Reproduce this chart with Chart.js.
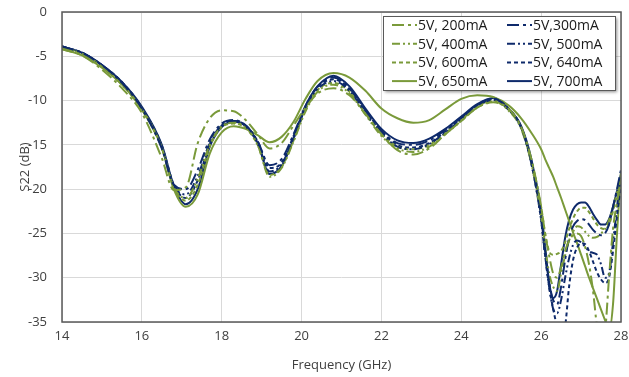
<!DOCTYPE html>
<html>
<head>
<meta charset="utf-8">
<script src="https://cdn.jsdelivr.net/npm/chart.js@4.4.0/dist/chart.umd.min.js"></script>
<style>
  html, body { margin: 0; padding: 0; background: #fff; }
  #wrap { width: 629px; height: 377px; }
</style>
</head>
<body>
<div id="wrap"><canvas id="grafik" width="629" height="377"></canvas></div>
<script>
// frekuensi (GHz) yang dipakai semua kurva
const frekuensi = [14, 14.5, 15, 15.5, 16, 16.5, 16.8, 17.1, 17.4, 17.7, 18, 18.3, 18.6, 18.9, 19.2, 19.5, 19.8, 20.1, 20.4, 20.8,
  21.2, 21.6, 22, 22.4, 22.8, 23.2, 23.6, 24, 24.4, 24.8, 25.2, 25.5, 25.75,
  26.0, 26.1, 26.2, 26.3, 26.4, 26.5, 26.6, 26.7, 26.8, 26.9, 27.0, 27.1, 27.2, 27.3, 27.4, 27.5, 27.6, 27.7, 27.8, 27.9, 28.0];

const label = ['5V, 200mA', '5V,300mA', '5V, 400mA', '5V, 500mA', '5V, 600mA', '5V, 640mA', '5V, 650mA', '5V, 700mA'];

// S22 (dB) tiap kondisi bias
const s22_200 = [-4.2, -4.9, -6.5, -8.6, -11.4, -16.5, -20.1, -19.8, -14.8, -12.0, -11.1, -11.2, -12.2, -13.8, -15.4, -14.8, -12.8, -10.8, -9.2, -8.6,
  -9.4, -11.5, -13.8, -15.6, -16.1, -15.4, -13.8, -12.3, -10.8, -10.2, -11.0, -13.0, -16.5,
  -22.0, -25.0, -27.5, -29.5, -30.0, -28.8, -27.0, -25.8, -25.2, -25.0, -25.3, -26.5, -28.5, -31.5, -35.5, -37.0, -36.0, -30.0, -24.5, -21.5, -19.0];
const s22_300 = [-3.9, -4.6, -6.0, -8.0, -10.9, -15.4, -19.5, -20.0, -17.8, -14.4, -12.6, -12.2, -12.8, -14.6, -17.3, -16.6, -13.8, -10.6, -8.4, -7.4,
  -8.6, -11.1, -13.4, -14.8, -15.0, -14.5, -13.3, -11.9, -10.5, -9.8, -11.0, -13.0, -16.8,
  -23.0, -27.0, -30.5, -32.5, -33.0, -31.0, -28.0, -25.5, -24.2, -23.6, -23.4, -23.5, -24.0, -24.6, -25.0, -25.2, -25.0, -24.0, -22.0, -20.0, -17.8];
const s22_400 = [-4.0, -4.7, -6.2, -8.2, -11.0, -15.4, -19.8, -21.0, -18.8, -15.0, -12.9, -12.5, -13.0, -15.0, -18.6, -17.6, -14.6, -11.2, -9.0, -8.2,
  -9.2, -11.6, -14.0, -15.4, -15.8, -15.2, -13.8, -12.3, -10.8, -10.1, -11.2, -13.2, -17.0,
  -23.0, -26.5, -29.5, -31.0, -31.5, -29.5, -27.5, -25.8, -24.8, -24.2, -24.3, -24.8, -25.3, -25.5, -25.4, -25.0, -24.5, -23.5, -22.0, -20.5, -18.8];
const s22_500 = [-3.9, -4.6, -6.0, -8.0, -10.9, -15.3, -19.6, -20.6, -18.5, -14.8, -12.8, -12.3, -12.9, -14.8, -18.0, -17.2, -14.2, -10.9, -8.7, -7.8,
  -8.9, -11.4, -13.7, -15.2, -15.5, -14.9, -13.6, -12.1, -10.6, -9.9, -11.1, -13.1, -17.0,
  -23.5, -27.5, -31.0, -33.5, -34.0, -32.5, -30.0, -27.8, -26.3, -25.8, -26.0, -26.5, -27.0, -27.2, -27.4, -28.5, -30.0, -29.5, -26.0, -22.0, -18.5];
const s22_600 = [-4.0, -4.7, -6.1, -8.1, -10.9, -15.3, -19.8, -21.3, -19.5, -15.2, -13.0, -12.6, -13.1, -15.0, -18.4, -17.5, -14.5, -11.0, -8.8, -8.0,
  -9.0, -11.5, -13.8, -15.2, -15.5, -15.0, -13.7, -12.2, -10.7, -10.0, -11.1, -13.1, -16.8,
  -22.0, -25.0, -27.0, -27.4, -27.3, -27.0, -26.0, -24.5, -23.3, -22.5, -22.1, -22.1, -22.6, -23.3, -24.0, -24.4, -24.5, -24.0, -22.5, -20.5, -18.5];
const s22_640 = [-3.9, -4.6, -6.0, -7.9, -10.8, -15.1, -19.5, -21.0, -19.0, -14.9, -12.8, -12.3, -12.8, -14.6, -17.6, -17.0, -14.0, -10.7, -8.5, -7.6,
  -8.7, -11.2, -13.5, -15.0, -15.3, -14.8, -13.5, -12.0, -10.5, -9.8, -11.0, -13.0, -17.0,
  -23.5, -27.5, -31.0, -33.5, -35.5, -36.5, -35.5, -31.0, -28.0, -26.6, -26.1, -26.2, -27.0, -28.2, -29.4, -30.2, -30.6, -30.0, -27.0, -23.0, -19.5];
const s22_650 = [-4.2, -4.9, -6.3, -8.2, -11.0, -15.3, -20.0, -22.0, -20.6, -16.0, -13.6, -12.9, -13.2, -13.9, -14.7, -14.1, -12.4, -9.8, -7.8, -6.9,
  -7.4, -8.9, -10.9, -12.0, -12.5, -12.2, -11.0, -9.8, -9.4, -9.6, -10.6, -12.0, -13.6,
  -15.5, -16.6, -17.6, -18.6, -19.8, -21.0, -22.3, -23.6, -24.9, -26.1, -27.4, -28.7, -30.0, -31.2, -32.4, -33.6, -34.8, -36.0, -33.0, -25.0, -18.0];
const s22_700 = [-3.9, -4.6, -6.0, -7.9, -10.7, -15.0, -19.6, -21.7, -20.0, -15.2, -13.0, -12.4, -12.9, -14.8, -18.3, -17.4, -14.3, -10.6, -8.4, -7.2,
  -8.4, -10.9, -13.2, -14.5, -14.8, -14.3, -13.2, -11.8, -10.4, -9.7, -11.0, -12.9, -16.5,
  -22.5, -26.5, -30.5, -32.3, -31.5, -28.5, -25.5, -23.5, -22.3, -21.7, -21.5, -21.5, -22.0, -22.8, -23.5, -24.0, -24.0, -23.4, -22.0, -20.2, -18.3];

const hijau = '#7A9A3A';
const biru = '#0E2A6B';

const dashPanjangTitik = [12, 4, 3, 4];
const dashTitikTitik = [8, 3, 2, 3, 2, 3];
const dashPendek = [4, 3];

const semuaData = [s22_200, s22_300, s22_400, s22_500, s22_600, s22_640, s22_650, s22_700];
const warna = [hijau, biru, hijau, biru, hijau, biru, hijau, biru];
const garis = [dashPanjangTitik, dashPanjangTitik, dashTitikTitik, dashTitikTitik, dashPendek, dashPendek, [], []];

const datasets = semuaData.map((nilai, i) => ({
  label: label[i],
  data: frekuensi.map((f, j) => ({ x: f, y: nilai[j] })),
  borderColor: warna[i],
  backgroundColor: warna[i],
  borderDash: garis[i],
  borderWidth: 2,
  pointRadius: 0,
  cubicInterpolationMode: 'monotone',
  fill: false
}));

// kotak area plot
const bingkaiPlugin = {
  id: 'bingkai',
  afterDatasetsDraw(chart) {
    const { ctx, chartArea: a } = chart;
    ctx.save();
    ctx.strokeStyle = '#595959';
    ctx.lineWidth = 1.5;
    ctx.strokeRect(a.left, a.top, a.right - a.left, a.bottom - a.top);
    ctx.restore();
  }
};

// legenda dua kolom di dalam plot
const legendaPlugin = {
  id: 'legenda',
  afterDraw(chart) {
    const ctx = chart.ctx;
    const kiri = 383, atas = 16, lebar = 232, tinggi = 74;
    ctx.save();
    ctx.shadowColor = 'rgba(0,0,0,0.45)';
    ctx.shadowBlur = 3;
    ctx.shadowOffsetX = 2;
    ctx.shadowOffsetY = 2;
    ctx.fillStyle = '#fff';
    ctx.fillRect(kiri, atas, lebar, tinggi);
    ctx.shadowColor = 'transparent';
    ctx.strokeStyle = '#595959';
    ctx.lineWidth = 1;
    ctx.strokeRect(kiri + 0.5, atas + 0.5, lebar, tinggi);
    ctx.font = '14px "Open Sans"';
    ctx.textBaseline = 'middle';
    chart.data.datasets.forEach((ds, i) => {
      const kol = i % 2, baris = Math.floor(i / 2);
      const x = kol === 0 ? 392 : 507;
      const y = 25 + baris * 18.7;
      ctx.strokeStyle = ds.borderColor;
      ctx.lineWidth = 2;
      ctx.setLineDash(ds.borderDash);
      ctx.beginPath();
      ctx.moveTo(x, y);
      ctx.lineTo(x + 25, y);
      ctx.stroke();
      ctx.setLineDash([]);
      ctx.fillStyle = '#1a1a1a';
      ctx.fillText(ds.label, x + 26, y + 1);
    });
    ctx.restore();
  }
};

new Chart(document.getElementById('grafik'), {
  type: 'line',
  data: { datasets },
  options: {
    responsive: false,
    animation: false,
    layout: { padding: { left: 0, right: 8, top: 12, bottom: 0 } },
    plugins: { legend: { display: false }, tooltip: { enabled: false } },
    scales: {
      x: {
        type: 'linear',
        min: 14, max: 28,
        ticks: { stepSize: 2, color: '#404040', font: { family: 'Open Sans', size: 13 }, padding: 6 },
        grid: { color: '#d9d9d9', drawTicks: false },
        border: { display: false },
        title: { display: true, text: 'Frequency (GHz)', color: '#404040', font: { family: 'Open Sans', size: 13 }, padding: { top: 0 } },
        afterFit(s) { s.height = 55; s.paddingLeft = 0; s.paddingRight = 0; }
      },
      y: {
        min: -35, max: 0,
        ticks: { stepSize: 5, color: '#404040', font: { family: 'Open Sans', size: 13 }, padding: 15 },
        grid: { color: '#d9d9d9', drawTicks: false },
        border: { display: false },
        title: { display: true, text: 'S22 (dB)', color: '#404040', font: { family: 'Open Sans', size: 13 }, padding: { top: 17 } },
        afterFit(s) { s.width = 62; s.paddingTop = 0; s.paddingBottom = 0; }
      }
    }
  },
  plugins: [bingkaiPlugin, legendaPlugin]
});
</script>
</body>
</html>
